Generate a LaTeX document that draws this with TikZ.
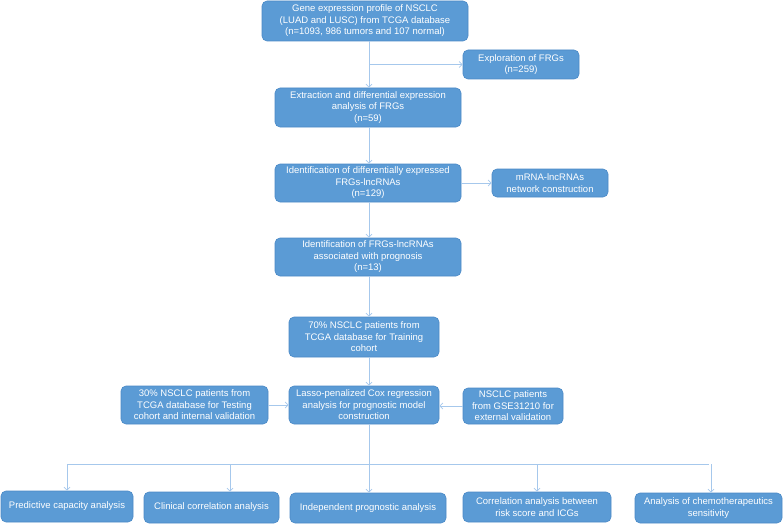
\documentclass[tikz,border=0pt]{standalone}
\usepackage{fontspec}
\setmainfont{Liberation Sans}
\usetikzlibrary{arrows.meta}
\definecolor{boxblue}{HTML}{5B9BD5}
\definecolor{boxedge}{HTML}{4A89C6}
\definecolor{linkblue}{HTML}{A6C8EC}
\begin{document}
\begin{tikzpicture}[x=1pt,y=-1pt,
  box/.style={draw=boxedge,line width=0.6pt,fill=boxblue,rounded corners=5pt,
    text=white,align=center,inner sep=0pt,
    font=\fontsize{9.5}{11.5}\selectfont},
  link/.style={draw=linkblue,line width=0.8pt},
  arr/.style={link,-{Straight Barb[length=3pt,width=6pt]}}]
\useasboundingbox (0,0) rectangle (783,524);
% main column
\node[box,minimum width=206,minimum height=40] (b1) at (365,21)
  {Gene expression profile of NSCLC\\(LUAD and LUSC) from TCGA database\\(n=1093, 986 tumors and 107 normal)};
\node[box,minimum width=116,minimum height=29] (expl) at (521,64.5)
  {Exploration of FRGs\\(n=259)};
\node[box,minimum width=186,minimum height=39] (b2) at (368,107.5)
  {Extraction and differential expression\\analysis of FRGs\\(n=59)};
\node[box,minimum width=186,minimum height=38] (b3) at (368,183)
  {Identification of differentially expressed\\FRGs-lncRNAs\\(n=129)};
\node[box,minimum width=116,minimum height=28] (mrna) at (550,183)
  {mRNA-lncRNAs\\network construction};
\node[box,minimum width=186,minimum height=38] (b4) at (368,257)
  {Identification of FRGs-lncRNAs\\associated with prognosis\\(n=13)};
\node[box,minimum width=150,minimum height=40] (b5) at (364,337)
  {70\% NSCLC patients from\\TCGA database for Training\\cohort};
\node[box,minimum width=150,minimum height=38] (b6) at (364,405)
  {Lasso-penalized Cox regression\\analysis for prognostic model\\construction};
\node[box,minimum width=147,minimum height=38] (test) at (194.5,405)
  {30\% NSCLC patients from\\TCGA database for Testing\\cohort and internal validation};
\node[box,minimum width=100,minimum height=36] (gse) at (513,406)
  {NSCLC patients\\from GSE31210 for\\external validation};
% bottom row
\node[box,minimum width=132,minimum height=31] (o1) at (67,506.5)
  {Predictive capacity analysis};
\node[box,minimum width=135,minimum height=31] (o2) at (211.5,507.5)
  {Clinical correlation analysis};
\node[box,minimum width=156,minimum height=30] (o3) at (368,508)
  {Independent prognostic analysis};
\node[box,minimum width=148,minimum height=30] (o4) at (537,507)
  {Correlation analysis between\\risk score and ICGs};
\node[box,minimum width=147,minimum height=30] (o5) at (708.5,508)
  {Analysis of chemotherapeutics\\sensitivity};
% connectors
\coordinate (spine) at (369,0);
\coordinate (hub) at (369,464);
\draw[arr] (b1.south -| spine) -- (b2.north -| spine);
\draw[arr] (expl.west -| spine) -- (expl.west);
\draw[arr] (b2.south -| spine) -- (b3.north -| spine);
\draw[arr] (b3.east) -- (mrna.west);
\draw[arr] (b3.south -| spine) -- (b4.north -| spine);
\draw[arr] (b4.south -| spine) -- (b5.north -| spine);
\draw[arr] (b5.south -| spine) -- (b6.north -| spine);
\draw[arr] (test.east) -- (b6.west);
\draw[arr] (gse.west) -- (b6.east |- gse.west);
\draw[arr] (b6.south -| spine) -- (o3.north -| spine);
\draw[link] (hub -| o1.north) -- (hub -| o5.north);
\draw[arr] (hub -| o1.north) -- (o1.north);
\draw[arr] (hub -| 230,0) -- (o2.north -| 230,0);
\draw[arr] (hub -| o4.north) -- (o4.north);
\draw[arr] (hub -| 711,0) -- (o5.north -| 711,0);
\end{tikzpicture}
\end{document}
